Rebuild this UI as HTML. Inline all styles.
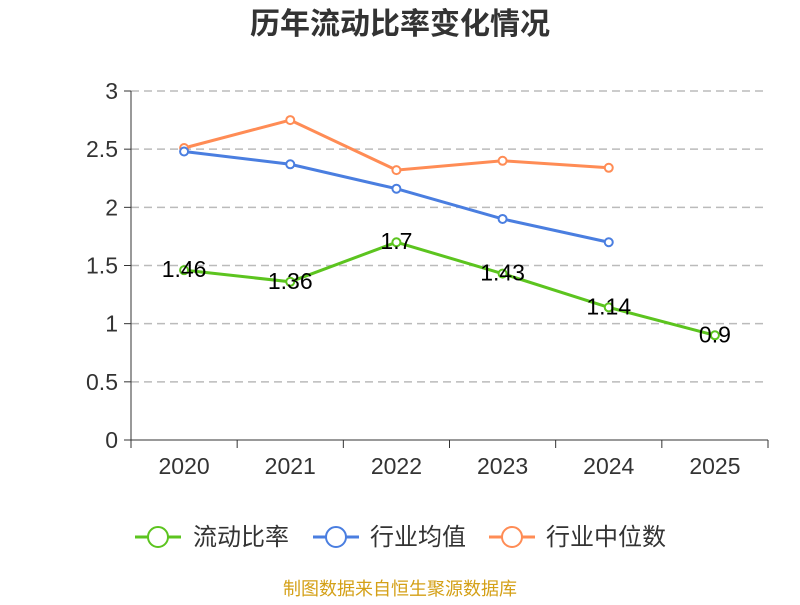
<!DOCTYPE html>
<html><head><meta charset="utf-8"><style>
body{margin:0;background:#fff;font-family:"Liberation Sans","Noto Sans CJK SC",sans-serif}
</style></head><body>
<svg id="c" width="800" height="600" xmlns="http://www.w3.org/2000/svg" font-family="Liberation Sans, Noto Sans CJK SC, sans-serif">
<text x="400" y="34" text-anchor="middle" font-size="30" font-weight="bold" fill="#333">历年流动比率变化情况</text>
<g id="grid"></g><g id="axes"></g><g id="series"></g>
<g font-size="24" fill="#333">
<g><line x1="135" y1="537" x2="181" y2="537" stroke="#5cc41f" stroke-width="3"/><circle cx="158" cy="537" r="10" fill="#fff" stroke="#5cc41f" stroke-width="2"/><text x="193" y="545">流动比率</text></g>
<g><line x1="313" y1="537" x2="359" y2="537" stroke="#4a7ee0" stroke-width="3"/><circle cx="336" cy="537" r="10" fill="#fff" stroke="#4a7ee0" stroke-width="2"/><text x="370" y="545">行业均值</text></g>
<g><line x1="489" y1="537" x2="535" y2="537" stroke="#ff8c55" stroke-width="3"/><circle cx="512" cy="537" r="10" fill="#fff" stroke="#ff8c55" stroke-width="2"/><text x="546" y="545">行业中位数</text></g>
</g>
<text x="400" y="595" text-anchor="middle" font-size="18" fill="#d4a017">制图数据来自恒生聚源数据库</text>
</svg>
<script>
const categories=["2020","2021","2022","2023","2024","2025"];
const currentRatio=[1.46,1.36,1.7,1.43,1.14,0.9];
const industryAvg=[2.48,2.37,2.16,1.90,1.70];
const industryMedian=[2.51,2.75,2.32,2.40,2.34];
const yTicks=[0,0.5,1,1.5,2,2.5,3];
const NS="http://www.w3.org/2000/svg";
const L=131,R=768,T=91,B=440,ymax=3;
const bw=(R-L)/categories.length;
const x=i=>L+bw*(i+0.5);
const y=v=>B-(v/ymax)*(B-T);
function mk(t,a,p){const e=document.createElementNS(NS,t);for(const k in a)e.setAttribute(k,a[k]);p.appendChild(e);return e;}
const g=document.getElementById('grid'),ax=document.getElementById('axes'),s=document.getElementById('series');
yTicks.forEach(v=>{
 if(v>0){const l=mk('line',{x1:L,x2:R,y1:y(v),y2:y(v),stroke:'#bbb','stroke-width':1.5,'stroke-dasharray':'8,5'},g);
 
 }
 mk('line',{x1:L-7,x2:L,y1:y(v),y2:y(v),stroke:'#333'},ax);
 const t=mk('text',{x:L-13,y:y(v)+8,'text-anchor':'end','font-size':23,fill:'#333'},ax);t.textContent=v;
 
 
});
mk('line',{x1:L,x2:L,y1:T,y2:B,stroke:'#333'},ax);
mk('line',{x1:L,x2:R,y1:B,y2:B,stroke:'#333'},ax);
for(let i=0;i<=categories.length;i++)mk('line',{x1:L+bw*i,x2:L+bw*i,y1:B,y2:B+8,stroke:'#333'},ax);
categories.forEach((c,i)=>{const t=mk('text',{x:x(i),y:B+34,'text-anchor':'middle','font-size':23,fill:'#333'},ax);t.textContent=c;
 
 });
function line(data,color,name,labels){
 const p=mk('polyline',{points:data.map((v,i)=>x(i)+','+y(v)).join(' '),fill:'none',stroke:color,'stroke-width':3},s);
 
 
 data.forEach((v,i)=>{const c=mk('circle',{cx:x(i),cy:y(v),r:4,fill:'#fff',stroke:color,'stroke-width':2},s);
  
  
  if(labels){const t=mk('text',{x:x(i),y:y(v)+7,'text-anchor':'middle','font-size':23,fill:'#000'},s);t.textContent=v;
   
   }});
}
line(industryMedian,'#ff8c55','industry-median',false);
line(industryAvg,'#4a7ee0','industry-average',false);
line(currentRatio,'#5cc41f','current-ratio',true);
</script>
</body></html>
